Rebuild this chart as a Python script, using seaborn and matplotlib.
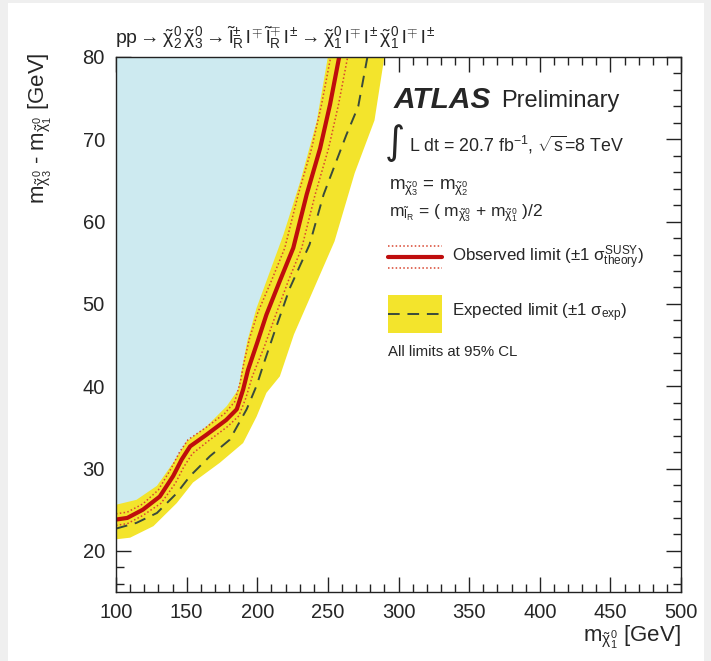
import matplotlib
matplotlib.use("Agg")
import matplotlib.pyplot as plt
import seaborn as sns
from matplotlib.patches import Rectangle
from matplotlib.lines import Line2D
from matplotlib.ticker import MultipleLocator

# ---- data ----
obs_x = [100, 108, 119, 131, 140.5, 146.5, 152.5, 164, 178, 185.5, 190, 193.5, 200, 206.5, 216, 225.5, 235, 244.5, 251.5, 258]
obs_y = [23.8, 24.0, 25.0, 26.6, 29.1, 31.1, 32.7, 34.1, 35.9, 37.2, 39.6, 42.0, 45.3, 48.7, 52.8, 56.8, 63.3, 68.9, 74.2, 80]

thu_x = [100, 108, 119, 130, 139, 145, 151, 163, 177, 184, 188, 190.5, 194.5, 200.5, 210, 219.5, 229, 238.5, 245.5, 252]
thu_y = [24.5, 24.7, 25.7, 27.4, 30.0, 32.0, 33.5, 34.9, 36.7, 38.1, 40.5, 42.8, 45.8, 49.0, 52.8, 56.8, 63.3, 68.9, 74.2, 80]
thd_x = [100, 108, 119, 132, 142, 148, 154, 165, 179, 187, 192, 196.5, 205, 212.5, 222, 231.5, 241, 250.5, 257.5, 264]
thd_y = [23.1, 23.3, 24.3, 25.8, 28.2, 30.2, 31.8, 33.3, 35.1, 36.4, 38.6, 41.2, 44.8, 48.4, 52.8, 56.8, 63.3, 68.9, 74.2, 80]

exp_x = [100, 114.5, 129, 143, 152.5, 166.5, 180.5, 192.5, 199.6, 204.3, 212, 223, 237, 247, 263, 271.5, 278]
exp_y = [22.7, 23.4, 24.6, 27.0, 29.1, 31.5, 33.5, 37.2, 40.1, 42.6, 46.5, 51.9, 57.2, 63.3, 70.5, 74.0, 80]

band_up_x = [100, 114.5, 129, 140.5, 150, 164, 178.5, 186.5, 189, 193, 199.5, 218.5, 230.5, 242, 250]
band_up_y = [25.6, 26.2, 27.9, 30.7, 33.3, 35.1, 37.6, 39.6, 42.0, 45.5, 49.5, 58.4, 64.9, 72.1, 80]
band_dn_x = [100, 110, 126.5, 143, 154.5, 173.5, 190, 199.5, 206.5, 216, 226, 254.7, 269, 283, 290]
band_dn_y = [21.4, 21.6, 23.0, 25.8, 28.3, 30.7, 33.1, 36.3, 39.2, 41.2, 46.3, 57.6, 65.9, 72.3, 80]

x_ticks = [100, 150, 200, 250, 300, 350, 400, 450, 500]
y_ticks = [20, 30, 40, 50, 60, 70, 80]

# ---- style ----
sns.set_style("ticks")
plt.rcParams["font.family"] = ["Liberation Sans", "DejaVu Sans"]
plt.rcParams["mathtext.fontset"] = "custom"
plt.rcParams["mathtext.rm"] = "Liberation Sans"
plt.rcParams["mathtext.it"] = "Liberation Sans"
plt.rcParams["mathtext.bf"] = "Liberation Sans:bold"
plt.rcParams["mathtext.sf"] = "Liberation Sans"

BLUE = "#cdeaf0"
YELLOW = "#f3e42c"
RED = "#bf0d0d"
DOT = "#d8452f"
DASH = "#394a3c"

W, H = 711, 661
fig = plt.figure(figsize=(W / 100, H / 100), dpi=100, facecolor="#efefef")
fig.patches.append(Rectangle((8 / W, 0), (704 - 8) / W, (H - 3) / H,
                             transform=fig.transFigure, facecolor="white",
                             edgecolor="none", zorder=-10))
ax = fig.add_axes([116 / W, (H - 592) / H, 565 / W, 535 / H])
ax.set_zorder(1)
ax.patch.set_alpha(0)

# excluded (blue) region
ax.fill([100] + obs_x + [100], [obs_y[0]] + obs_y + [80], color=BLUE, lw=0, zorder=1)
# expected +-1 sigma band
ax.fill(band_up_x + band_dn_x[::-1], band_up_y + band_dn_y[::-1], color=YELLOW, lw=0, zorder=2)

sns.lineplot(x=exp_x, y=exp_y, sort=False, ax=ax, color=DASH, lw=1.4,
             linestyle=(0, (6, 4)), zorder=3)
sns.lineplot(x=thu_x, y=thu_y, sort=False, ax=ax, color=DOT, lw=1.1,
             linestyle=(0, (1, 1.5)), zorder=4)
sns.lineplot(x=thd_x, y=thd_y, sort=False, ax=ax, color=DOT, lw=1.1,
             linestyle=(0, (1, 1.5)), zorder=4)
sns.lineplot(x=obs_x, y=obs_y, sort=False, ax=ax, color=RED, lw=3.0, zorder=5)

ax.set_xlim(100, 500)
ax.set_ylim(15, 80)
ax.set_xticks(x_ticks)
ax.set_yticks(y_ticks)
ax.xaxis.set_minor_locator(MultipleLocator(10))
ax.yaxis.set_minor_locator(MultipleLocator(2))
ax.tick_params(which="both", direction="in", top=True, right=True, width=1, color="#222222")
ax.tick_params(which="major", length=11, labelsize=14.5, pad=8)
ax.tick_params(which="minor", length=5.5)
for s in ax.spines.values():
    s.set_visible(True)
    s.set_linewidth(1.0)
    s.set_color("#222222")
    s.set_zorder(6)
ax.set_xlabel("")
ax.set_ylabel("")

def ax_xy(px, py):
    return ((px - 116) / 565, (592 - py) / 535)

# title
fig.text(115 / W, (H - 38) / H,
         r"pp$\rightarrow\tilde{\chi}^0_2\,\tilde{\chi}^0_3\rightarrow\tilde{l}^{\pm}_{R}\,l^{\mp}\,\tilde{l}^{\mp}_{R}\,l^{\pm}\rightarrow\tilde{\chi}^0_1\,l^{\mp}\,l^{\pm}\,\tilde{\chi}^0_1\,l^{\mp}\,l^{\pm}$",
         fontsize=14, ha="left", va="center")

# axis labels
fig.text(40 / W, (H - 52) / H,
         r"m$_{\tilde{\chi}^0_3}$ - m$_{\tilde{\chi}^0_1}$ [GeV]",
         rotation=90, fontsize=16, ha="center", va="top")
fig.text(681 / W, (H - 637) / H, r"m$_{\tilde{\chi}^0_1}$ [GeV]",
         fontsize=16, ha="right", va="center")

# ATLAS label block
ax.text(*ax_xy(394, 100), "ATLAS", transform=ax.transAxes, fontsize=21.5,
        fontweight="bold", fontstyle="italic", ha="left", va="center", zorder=7)
ax.text(*ax_xy(501, 101), "Preliminary", transform=ax.transAxes, fontsize=17,
        ha="left", va="center", zorder=7)
ax.text(*ax_xy(385, 143), "\u222b", transform=ax.transAxes, fontsize=28,
        ha="left", va="center", zorder=7, family=["DejaVu Sans"])
ax.text(*ax_xy(409, 145), r"L dt = 20.7 fb$^{-1}$, $\sqrt{\mathrm{s}}$=8 TeV",
        transform=ax.transAxes, fontsize=12.8, ha="left", va="center", zorder=7)
ax.text(*ax_xy(389, 188), r"m$_{\tilde{\chi}^0_3}$ = m$_{\tilde{\chi}^0_2}$",
        transform=ax.transAxes, fontsize=13.5, ha="left", va="center", zorder=7)
ax.text(*ax_xy(389, 213),
        r"m$_{\tilde{l}_{R}}$ = ( m$_{\tilde{\chi}^0_3}$ + m$_{\tilde{\chi}^0_1}$ )/2",
        transform=ax.transAxes, fontsize=12.5, ha="left", va="center", zorder=7)

# legend entries (drawn manually, ROOT style)
x0, y0 = ax_xy(388, 257)
x1, _ = ax_xy(442, 257)
ax.add_line(Line2D([x0, x1], [y0, y0], transform=ax.transAxes, color=RED, lw=3, zorder=7))
for py in (246, 268):
    _, yy = ax_xy(0, py)
    ax.add_line(Line2D([x0, x1], [yy, yy], transform=ax.transAxes, color=DOT, lw=1.1,
                       linestyle=(0, (1, 1.5)), zorder=7))
ax.text(*ax_xy(452, 258), r"Observed limit ($\pm$1 $\sigma^{\mathrm{SUSY}}_{\mathrm{theory}}$)",
        transform=ax.transAxes, fontsize=12.2, ha="left", va="center", zorder=7)

rx0, ry0 = ax_xy(388, 333)
rx1, ry1 = ax_xy(442, 295)
ax.add_patch(Rectangle((rx0, ry0), rx1 - rx0, ry1 - ry0, transform=ax.transAxes,
                       facecolor=YELLOW, edgecolor="none", zorder=7))
_, ym = ax_xy(0, 314)
ax.add_line(Line2D([rx0, rx1], [ym, ym], transform=ax.transAxes, color=DASH, lw=1.4,
                   linestyle=(0, (6, 4)), zorder=8))
ax.text(*ax_xy(452, 313), r"Expected limit ($\pm$1 $\sigma_{\mathrm{exp}}$)",
        transform=ax.transAxes, fontsize=12.2, ha="left", va="center", zorder=7)
ax.text(*ax_xy(388, 352), "All limits at 95% CL", transform=ax.transAxes,
        fontsize=10.8, ha="left", va="center", zorder=7)

fig.savefig("out.png", dpi=100, facecolor=fig.get_facecolor())
